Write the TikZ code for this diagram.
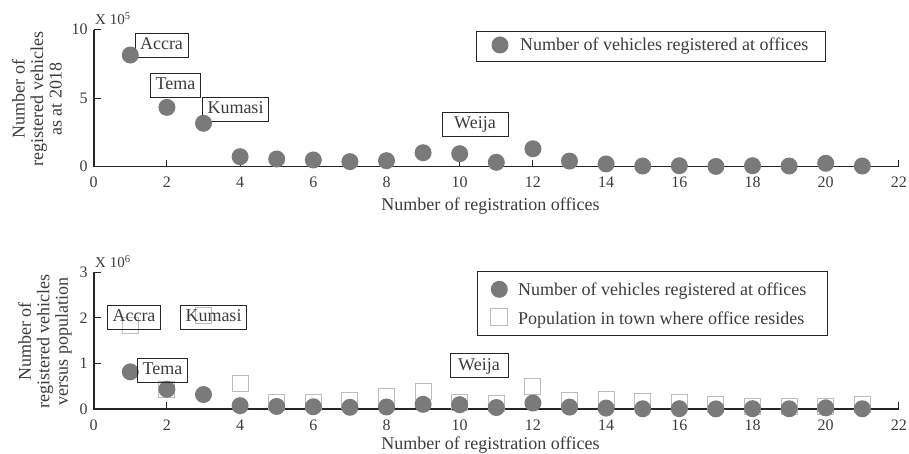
\documentclass[tikz,border=0pt]{standalone}
\usepackage{fontspec}
\setmainfont{Liberation Serif}
\usepackage{xcolor}
\usepackage{tikz}
\usetikzlibrary{calc,positioning}

\definecolor{axisgray}{HTML}{262626}
\definecolor{txtgray}{HTML}{3C3C3C}
\definecolor{dotgray}{HTML}{7A7A7A}
\definecolor{sqgray}{HTML}{BDBDBD}

\tikzset{
	regdot/.style={circle,fill=dotgray,inner sep=0pt,minimum size=17pt},
	popbox/.style={rectangle,draw=sqgray,line width=1pt,inner sep=0pt,minimum size=16pt},
	namebox/.style={draw=axisgray,line width=0.8pt,text=txtgray,font=\fontsize{18}{18}\selectfont,inner xsep=5pt,inner ysep=4.5pt,text height=12pt,text depth=3pt},
	axisline/.style={draw=axisgray,line width=1.6pt},
	tickline/.style={draw=axisgray,line width=1pt},
	ticklab/.style={text=txtgray,font=\fontsize{16}{16}\selectfont,inner sep=0pt},
	axislab/.style={text=txtgray,font=\fontsize{18}{18.5}\selectfont,inner sep=0pt},
}

\begin{document}
\begin{tikzpicture}[x=1pt,y=-1pt]
		\useasboundingbox (0,0) rectangle (909,454);
		% upper panel: vehicles per office
		\node[namebox] (accraA) at (161.5,45) {Accra};
		\node[namebox] (temaA) at (175.5,85) {Tema};
		\node[namebox] (kumasiA) at (235.5,109.5) {Kumasi};
		\node[namebox,minimum width=66pt] (weijaA) at (475,124) {Weija};
		\draw[draw=axisgray,line width=0.8pt] (476,31) rectangle (825,61);
		\node[regdot] (legdotA) at (500,45) {};
		\node[axislab,anchor=base west] (legtxtA) at (520,50.7) {Number of vehicles registered at offices};
		\node[ticklab,font=\fontsize{15}{15}\selectfont,anchor=base west] (expA) at (95,25) {X 10\textsuperscript{5}};
		\node[axislab,rotate=90,align=center] (ylabA) at (37,99) {Number of\\registered vehicles\\as at 2018};
		\node[axislab,anchor=base] (xlabA) at (490.5,210.7) {Number of registration offices};
		\begin{scope}[shift={(93.7pt,-166.7pt)},x=36.6pt,y=13.7pt]
			\draw[axisline] (0,10) -- (0,0) -- (22,0);
			\foreach \x in {2,4,...,22} \draw[tickline] (\x,0) -- ++(0,7pt);
			\foreach \y in {5,10} \draw[tickline] (0,\y) -- ++(7pt,0);
			\foreach \x in {0,2,...,22} \node[ticklab,anchor=base,yshift=-21.3pt] (txA\x) at (\x,0) {\x};
			\foreach \y in {0,5,10} \node[ticklab,anchor=east,xshift=-6pt] (tyA\y) at (0,\y) {\y};
			\foreach \v [count=\i] in {8.15,4.33,3.17,0.73,0.56,0.49,0.37,0.44,1.02,0.95,0.32,1.31,0.41,0.20,0.05,0.07,0.02,0.07,0.05,0.25,0.05}
				\node[regdot] (vA\i) at (\i,\v) {};
		\end{scope}
		% lower panel: vehicles against population
		\begin{scope}[shift={(93.7pt,-409pt)},x=36.6pt,y=45.6pt]
			\draw[axisline] (0,3) -- (0,0) -- (22,0);
			\foreach \x in {2,4,...,22} \draw[tickline] (\x,0) -- ++(0,7pt);
			\foreach \y in {1,2,3} \draw[tickline] (0,\y) -- ++(7pt,0);
			\foreach \x in {0,2,...,22} \node[ticklab,anchor=base,yshift=-21pt] (txB\x) at (\x,0) {\x};
			\foreach \y in {0,1,2,3} \node[ticklab,anchor=east,xshift=-6pt] (tyB\y) at (0,\y) {\y};
			\foreach \p [count=\i] in {1.83,0.42,2.05,0.55,0.15,0.15,0.19,0.28,0.38,0.15,0.12,0.50,0.18,0.21,0.17,0.14,0.09,0.06,0.05,0.06,0.09}
				\node[popbox] (pB\i) at (\i,\p) {};
			\foreach \v [count=\i] in {0.815,0.433,0.317,0.073,0.056,0.049,0.037,0.044,0.102,0.095,0.032,0.131,0.041,0.020,0.005,0.007,0.002,0.007,0.005,0.025,0.005}
				\node[regdot] (vB\i) at (\i,\v) {};
		\end{scope}
		\node[namebox] (accraB) at (134,317.4) {Accra};
		\node[namebox] (kumasiB) at (213.5,317.4) {Kumasi};
		\node[namebox] (temaB) at (162.5,370) {Tema};
		\node[namebox,minimum width=58pt] (weijaB) at (479,365.7) {Weija};
		\draw[draw=axisgray,line width=0.8pt] (477,271.3) rectangle (827,335.7);
		\node[regdot] (legdotB) at (499.3,289.3) {};
		\node[popbox,minimum size=17pt] (legsqB) at (499.3,317.3) {};
		\node[axislab,anchor=base west] (legtxtB) at (518,295.7) {Number of vehicles registered at offices};
		\node[axislab,anchor=base west] (legpopB) at (518,324) {Population in town where office resides};
		\node[ticklab,font=\fontsize{15}{15}\selectfont,anchor=base west] (expB) at (95,267.3) {X 10\textsuperscript{6}};
		\node[axislab,rotate=90,align=center] (ylabB) at (45,341.5) {Number of\\registered vehicles\\versus population};
		\node[axislab,anchor=base] (xlabB) at (490.5,449) {Number of registration offices};
		\end{tikzpicture}
\end{document}
